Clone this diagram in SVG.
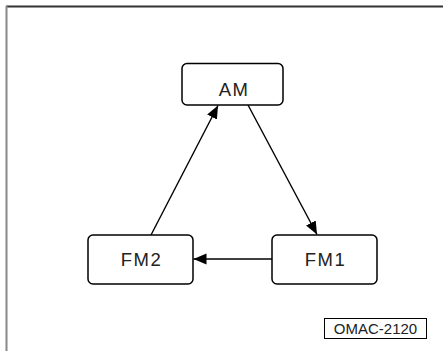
<svg xmlns="http://www.w3.org/2000/svg" width="443" height="351" viewBox="0 0 443 351">
<style>
.node rect{fill:#fff;stroke:#000;stroke-width:1.5}
.node text{font-family:"Liberation Sans",Arial,sans-serif;font-size:18.5px;letter-spacing:1.5px;text-anchor:middle;fill:#222}
.conn line{stroke:#000;stroke-width:1.4}
.lbl{font-family:"Liberation Sans",Arial,sans-serif;font-size:15px;fill:#222;text-anchor:middle}
</style>
<defs>
<marker id="ah" markerWidth="14" markerHeight="12" refX="13" refY="6" orient="auto" markerUnits="userSpaceOnUse">
<path d="M0,0.5 L13,6 L0,11.5 Z" fill="#000"/>
</marker>
</defs>
<rect x="0" y="0" width="443" height="351" fill="#fff"/>
<line x1="6" y1="6.5" x2="443" y2="6.5" stroke="#333" stroke-width="2"/>
<line x1="6.5" y1="6" x2="6.5" y2="351" stroke="#888" stroke-width="2"/>
<g class="conn">
<line x1="248" y1="105" x2="317" y2="234.5" marker-end="url(#ah)"/>
<line x1="151" y1="235" x2="218" y2="105.5" marker-end="url(#ah)"/>
<line x1="272" y1="259" x2="193.5" y2="259" marker-end="url(#ah)"/>
</g>
<g id="AM" class="node">
<rect x="182" y="63.5" width="101" height="41.5" rx="5"/>
<text x="234" y="96">AM</text>
</g>
<g id="FM1" class="node">
<rect x="272" y="235" width="105" height="49" rx="5"/>
<text x="325.5" y="266">FM1</text>
</g>
<g id="FM2" class="node">
<rect x="88" y="235" width="105" height="49" rx="5"/>
<text x="141.5" y="266">FM2</text>
</g>
<g id="label">
<rect x="324.5" y="318.5" width="102" height="20" fill="#fff" stroke="#000" stroke-width="1"/>
<text class="lbl" x="375.5" y="334">OMAC-2120</text>
</g>
</svg>
